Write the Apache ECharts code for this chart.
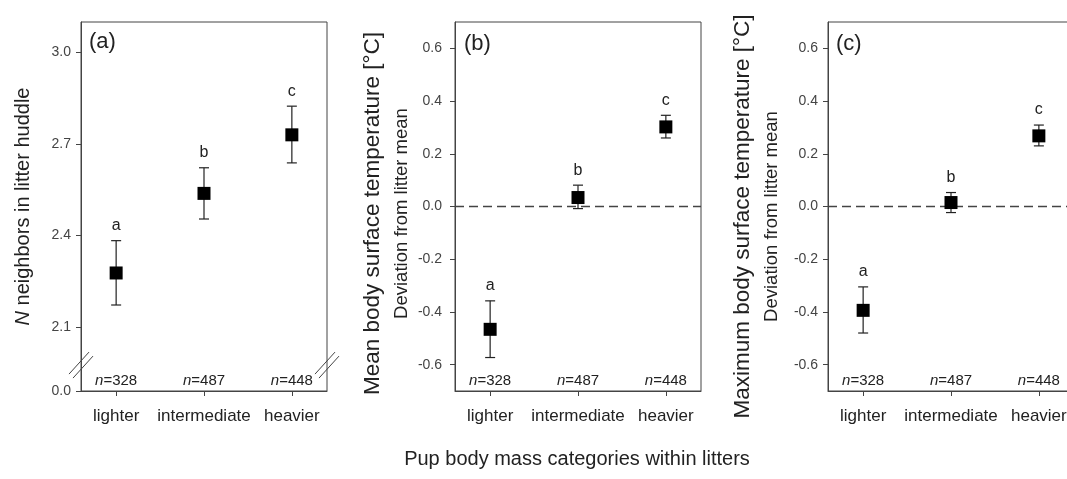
<!DOCTYPE html>
<html><head><meta charset="utf-8">
<script src="https://cdn.jsdelivr.net/npm/echarts@6/dist/echarts.min.js"></script>
<style>html,body{margin:0;padding:0;background:#fff}#c{width:1067px;height:479px}</style>
</head><body><div id="c"></div>
<script>
// ---- data ----
const categories = ['lighter', 'intermediate', 'heavier'];
const sampleSizes = [328, 487, 448];
const sigLetters = ['a', 'b', 'c'];
const panelLabels = ['(a)', '(b)', '(c)'];

// (a) N neighbors in litter huddle
const neighborsMean = [2.277, 2.538, 2.730];
const neighborsLow  = [2.172, 2.454, 2.638];
const neighborsHigh = [2.383, 2.622, 2.824];
// (b) mean body surface temperature, deviation from litter mean
const meanTempMean = [-0.466, 0.034, 0.302];
const meanTempLow  = [-0.573, -0.008, 0.260];
const meanTempHigh = [-0.358, 0.081, 0.346];
// (c) maximum body surface temperature, deviation from litter mean
const maxTempMean = [-0.394, 0.015, 0.268];
const maxTempLow  = [-0.480, -0.023, 0.230];
const maxTempHigh = [-0.305, 0.053, 0.309];

// axis ticks
const neighborsTicks = [2.1, 2.4, 2.7, 3.0];
const neighborsFloor = 1.89;      // broken axis floor
const neighborsFloorLabel = '0.0';
const neighborsBreak = 1.975;
const tempTicks = [-0.6, -0.4, -0.2, 0.0, 0.2, 0.4, 0.6];
const categoryPositions = [1, 2, 3];

// ---- chart ----
const FONT = '"Liberation Sans", Arial, sans-serif';
const chart = echarts.init(document.getElementById('c'), null, {renderer: 'canvas'});

const grids = [
  {left: 81, top: 22, width: 246, height: 369},
  {left: 455, top: 22, width: 246, height: 369},
  {left: 828, top: 22, width: 246, height: 369}
].map(g => Object.assign(g, {show: true, borderColor: '#444', borderWidth: 1,
  backgroundColor: 'transparent', containLabel: false, outerBoundsMode: 'none'}));

const xAxes = [0, 1, 2].map(i => ({
  type: 'value', gridIndex: i, min: 0.6, max: 3.4,
  splitLine: {show: false},
  axisLine: {show: true, onZero: false, lineStyle: {color: '#444', width: 1}},
  axisTick: {show: true, inside: false, length: 5, customValues: categoryPositions, lineStyle: {color: '#444'}},
  axisLabel: {show: true, customValues: categoryPositions, margin: 17,
    formatter: v => categories[Math.round(v) - 1] || '',
    fontFamily: FONT, fontSize: 17, color: '#222'}
}));

const yBase = {
  type: 'value', splitLine: {show: false},
  axisLine: {show: true, onZero: false, lineStyle: {color: '#444', width: 1}},
  axisTick: {show: true, inside: false, length: 5, lineStyle: {color: '#444'}},
  nameLocation: 'middle', nameRotate: 90
};
const yAxes = [
  Object.assign({}, yBase, {
    gridIndex: 0, min: neighborsFloor, max: 3.1,
    axisTick: Object.assign({}, yBase.axisTick, {customValues: [neighborsFloor].concat(neighborsTicks)}),
    axisLabel: {customValues: [neighborsFloor].concat(neighborsTicks), margin: 10,
      formatter: v => (v < 2 ? neighborsFloorLabel : v.toFixed(1)),
      fontFamily: FONT, fontSize: 14, color: '#444'},
    name: '{i|N} neighbors in litter huddle', nameGap: 46,
    nameTextStyle: {fontFamily: FONT, fontSize: 20, color: '#222', lineHeight: 24,
      rich: {i: {fontStyle: 'italic', fontFamily: FONT, fontSize: 20, color: '#222'}}}
  }),
  Object.assign({}, yBase, {
    gridIndex: 1, min: -0.7, max: 0.7,
    axisTick: Object.assign({}, yBase.axisTick, {customValues: tempTicks}),
    axisLabel: {customValues: tempTicks, margin: 13, formatter: v => v.toFixed(1),
      fontFamily: FONT, fontSize: 14, color: '#444'},
    name: '{t|Mean body surface temperature [°C]}\n{s|Deviation from litter mean}', nameGap: 40,
    nameTextStyle: {fontFamily: FONT, color: '#222', padding: [0, 14, 0, 0],
      rich: {t: {fontFamily: FONT, fontSize: 22.5, lineHeight: 32, color: '#222'},
             s: {fontFamily: FONT, fontSize: 18.5, lineHeight: 26, color: '#222'}}}
  }),
  Object.assign({}, yBase, {
    gridIndex: 2, min: -0.7, max: 0.7,
    axisTick: Object.assign({}, yBase.axisTick, {customValues: tempTicks}),
    axisLabel: {customValues: tempTicks, margin: 10, formatter: v => v.toFixed(1),
      fontFamily: FONT, fontSize: 14, color: '#444'},
    name: '{t|Maximum body surface temperature [°C]}\n{s|Deviation from litter mean}', nameGap: 43,
    nameTextStyle: {fontFamily: FONT, color: '#222', padding: [0, 20, 0, 0],
      rich: {t: {fontFamily: FONT, fontSize: 22.5, lineHeight: 32, color: '#222'},
             s: {fontFamily: FONT, fontSize: 18.5, lineHeight: 26, color: '#222'}}}
  })
];

function errorSeries(idx, low, high) {
  return {
    type: 'custom', xAxisIndex: idx, yAxisIndex: idx, z: 2, silent: true,
    data: categoryPositions.map((x, i) => [x, low[i], high[i]]),
    renderItem: (params, api) => {
      const x = api.value(0);
      const lo = api.coord([x, api.value(1)]);
      const hi = api.coord([x, api.value(2)]);
      const hw = 5;
      const st = {stroke: '#222', lineWidth: 1.2};
      return {type: 'group', children: [
        {type: 'line', shape: {x1: lo[0], y1: lo[1], x2: hi[0], y2: hi[1]}, style: st},
        {type: 'line', shape: {x1: lo[0] - hw, y1: lo[1], x2: lo[0] + hw, y2: lo[1]}, style: st},
        {type: 'line', shape: {x1: hi[0] - hw, y1: hi[1], x2: hi[0] + hw, y2: hi[1]}, style: st},
        {type: 'text', x: hi[0], y: hi[1] - 15, style: {text: sigLetters[params.dataIndex],
          textAlign: 'center', textVerticalAlign: 'middle', font: '16px ' + FONT, fill: '#222'}}
      ]};
    }
  };
}

function nSeries(idx) {
  return {
    type: 'custom', xAxisIndex: idx, yAxisIndex: idx, z: 2, silent: true,
    data: categoryPositions.map((x, i) => [x, sampleSizes[i]]),
    renderItem: (params, api) => {
      const p = api.coord([api.value(0), idx === 0 ? neighborsFloor : -0.7]);
      return {type: 'text', x: p[0], y: p[1] - 3, style: {
        text: '{i|n}=' + sampleSizes[params.dataIndex],
        textAlign: 'center', textVerticalAlign: 'bottom',
        font: '15px ' + FONT, fill: '#222',
        rich: {i: {fontStyle: 'italic', fontSize: 15, fontFamily: FONT, fill: '#222', color: '#222'}}
      }};
    }
  };
}

function zeroLineSeries(idx) {
  // dashed reference line at zero, drawn through the axis scales
  return {
    type: 'custom', xAxisIndex: idx, yAxisIndex: idx, z: 1, silent: true,
    data: [[0.6, 0, 3.4]],
    renderItem: (params, api) => {
      const a = api.coord([api.value(0), api.value(1)]);
      const b = api.coord([api.value(2), api.value(1)]);
      return {type: 'line', shape: {x1: a[0], y1: a[1], x2: b[0], y2: b[1]},
        style: {stroke: '#444', lineWidth: 1.3, lineDash: [9, 5]}};
    }
  };
}

function pointSeries(idx, means) {
  return {
    type: 'scatter', xAxisIndex: idx, yAxisIndex: idx, z: 3, silent: true,
    symbol: 'rect', symbolSize: 13, itemStyle: {color: '#000', opacity: 1},
    data: categoryPositions.map((x, i) => [x, means[i]])
  };
}

const titles = [
  {text: panelLabels[0], left: 89, top: 31},
  {text: panelLabels[1], left: 464, top: 33},
  {text: panelLabels[2], left: 836, top: 33}
].map(t => Object.assign(t, {padding: 0, textStyle: {fontFamily: FONT, fontSize: 22, fontWeight: 'normal', color: '#222'}}));

chart.setOption({
  animation: false,
  backgroundColor: '#fff',
  title: titles,
  grid: grids,
  xAxis: xAxes,
  yAxis: yAxes,
  series: [
    errorSeries(0, neighborsLow, neighborsHigh), pointSeries(0, neighborsMean), nSeries(0),
    zeroLineSeries(1), errorSeries(1, meanTempLow, meanTempHigh), pointSeries(1, meanTempMean), nSeries(1),
    zeroLineSeries(2), errorSeries(2, maxTempLow, maxTempHigh), pointSeries(2, maxTempMean), nSeries(2)
  ]
});

// axis-break marks on panel (a), placed through the axis scales
const leftPt = chart.convertToPixel({gridIndex: 0}, [0.6, neighborsBreak]);
const rightPt = chart.convertToPixel({gridIndex: 0}, [3.4, neighborsBreak]);
function slashes(p) {
  const st = {stroke: '#444', lineWidth: 1};
  return [-2, 2].map(o => ({type: 'line', z: 10,
    shape: {x1: p[0] + o - 10, y1: p[1] + o + 11, x2: p[0] + o + 10, y2: p[1] + o - 11}, style: st}));
}
chart.setOption({
  graphic: [
    ...slashes(leftPt), ...slashes(rightPt),
    {type: 'text', x: 577, y: 459, style: {text: 'Pup body mass categories within litters',
      textAlign: 'center', textVerticalAlign: 'middle', font: '20px ' + FONT, fill: '#222'}}
  ]
});
</script>
</body></html>
